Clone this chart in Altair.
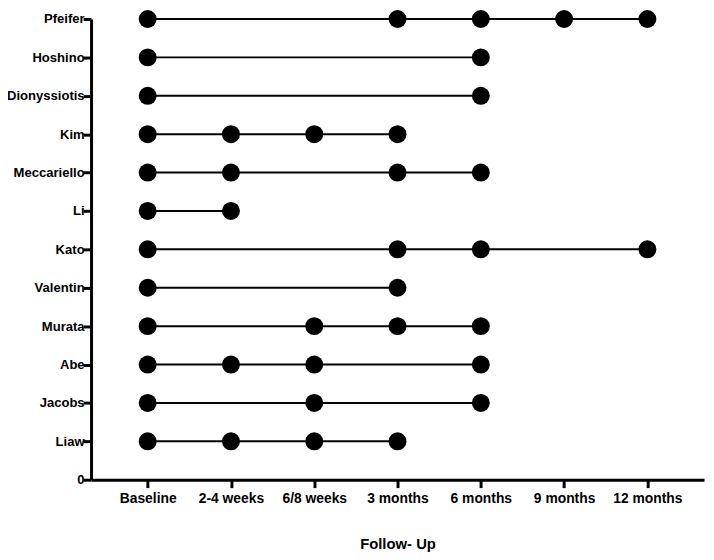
import altair as alt
import pandas as pd

studies = ["Pfeifer", "Hoshino", "Dionyssiotis", "Kim", "Meccariello", "Li",
           "Kato", "Valentin", "Murata", "Abe", "Jacobs", "Liaw"]
times = ["Baseline", "2-4 weeks", "6/8 weeks", "3 months", "6 months", "9 months", "12 months"]
followups = [
    ["Baseline", "3 months", "6 months", "9 months", "12 months"],
    ["Baseline", "6 months"],
    ["Baseline", "6 months"],
    ["Baseline", "2-4 weeks", "6/8 weeks", "3 months"],
    ["Baseline", "2-4 weeks", "3 months", "6 months"],
    ["Baseline", "2-4 weeks"],
    ["Baseline", "3 months", "6 months", "12 months"],
    ["Baseline", "3 months"],
    ["Baseline", "6/8 weeks", "3 months", "6 months"],
    ["Baseline", "2-4 weeks", "6/8 weeks", "6 months"],
    ["Baseline", "6/8 weeks", "6 months"],
    ["Baseline", "2-4 weeks", "6/8 weeks", "3 months"],
]

n = len(studies)
rows = []
for i, (s, fu) in enumerate(zip(studies, followups)):
    for t in fu:
        rows.append({"study": s, "pos": n - i, "time": t})
df = pd.DataFrame(rows)

labels = ["0"] + studies[::-1]
label_expr = "[" + ",".join("'" + l + "'" for l in labels) + "][datum.value]"

FONT = "Liberation Sans"

x_enc = alt.X("time:O", sort=times,
              scale=alt.Scale(type="point", domain=times, padding=0.68),
              axis=alt.Axis(title="Follow- Up", labelAngle=0, titlePadding=32))
y_enc = alt.Y("pos:Q", scale=alt.Scale(domain=[0, n], nice=False, zero=True),
              axis=alt.Axis(title=None, values=list(range(0, n + 1)),
                            labelExpr=label_expr, labelPadding=-1))

base = alt.Chart(df)
lines = base.mark_line(color="black", strokeWidth=2).encode(
    x=x_enc, y=y_enc, detail="study:N")
points = base.mark_circle(color="black", opacity=1, size=330).encode(
    x=x_enc, y=y_enc)

chart = (lines + points).properties(
    width=620, height=466,
    autosize=alt.AutoSizeParams(type="none"),
    padding={"left": 84, "top": 8, "right": 2, "bottom": 70},
).configure_view(stroke=None).configure_axis(
    grid=False, domainColor="black", domainWidth=3, tickColor="black",
    tickWidth=3, tickSize=8, labelFont=FONT, labelFontSize=14,
    labelFontWeight="bold", labelColor="black", titleFont=FONT,
    titleFontSize=15, titleFontWeight="bold", titleColor="black",
    labelPadding=4,
).configure_axisY(labelPadding=-1, labelFontSize=13.2)

chart.save("out.html", embed_options={"renderer": "svg", "actions": False})
